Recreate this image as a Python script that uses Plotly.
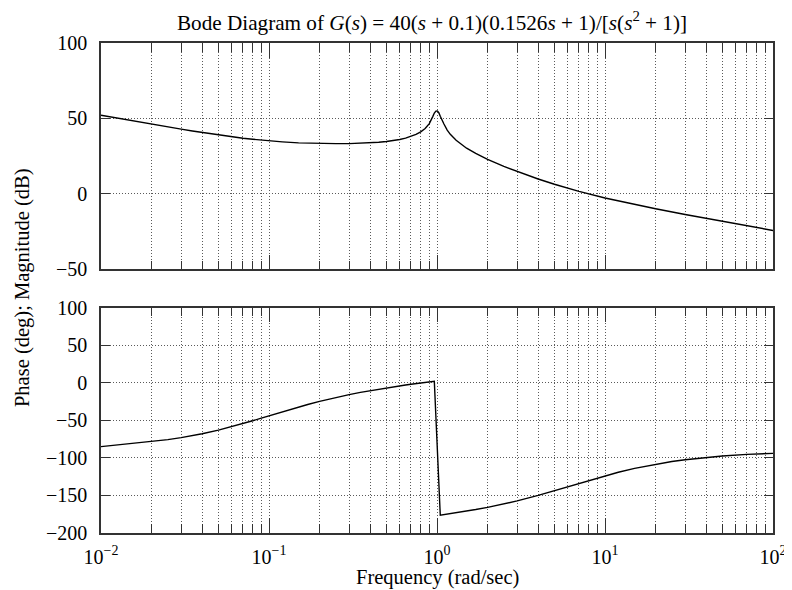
import plotly.graph_objects as go

# Frequencies (rad/sec) and values
freq_mag = [0.01, 0.012, 0.015, 0.02, 0.025, 0.03, 0.035, 0.04, 0.05, 0.06, 0.07, 0.08,
            0.1, 0.12, 0.15, 0.17, 0.2, 0.25, 0.3, 0.35, 0.4, 0.45, 0.5, 0.55, 0.6, 0.65,
            0.7, 0.75, 0.8, 0.85, 0.9, 0.92, 0.945, 0.964, 0.985, 1.005, 1.025, 1.046,
            1.07, 1.1, 1.15, 1.2, 1.3, 1.4, 1.5, 1.7, 2, 2.5, 3, 4, 5, 7, 10, 15, 20,
            30, 50, 70, 100]
mag_db = [52.1, 50.5, 48.6, 46.2, 44.4, 42.9, 41.7, 40.7, 39.1, 37.9, 36.9, 36.2,
          35.1, 34.5, 33.8, 33.6, 33.4, 33.3, 33.3, 33.5, 33.8, 34.2, 34.7, 35.3, 36.1,
          37.0, 38.0, 39.4, 41.1, 43.3, 46.6, 48.5, 51.4, 53.6, 54.9, 55.0, 53.8, 51.5,
          48.8, 46.3, 42.3, 39.5, 35.5, 32.6, 30.3, 26.8, 22.9, 18.2, 14.8, 9.9, 6.4,
          1.7, -2.7, -7.0, -9.8, -13.6, -18.2, -21.2, -24.2]

freq_ph = [0.01, 0.0125, 0.015, 0.02, 0.025, 0.03, 0.035, 0.04, 0.05, 0.06, 0.07, 0.08,
           0.09, 0.1, 0.12, 0.15, 0.17, 0.2, 0.25, 0.3, 0.35, 0.4, 0.45, 0.5, 0.55, 0.6,
           0.65, 0.7, 0.75, 0.8, 0.85, 0.9, 0.964, 1.046, 1.2, 1.3, 1.5, 1.7, 2, 2.5, 3,
           4, 5, 6, 7, 8, 10, 12, 15, 20, 25, 30, 40, 50, 70, 100]
phase_deg = [-85.0, -82.8, -81.3, -78.5, -75.7, -73.0, -70.4, -67.9, -63.0, -58.5,
             -54.4, -50.6, -47.2, -44.1, -38.8, -32.4, -29.0, -24.8, -19.6, -15.8,
             -12.9, -10.6, -8.6, -7.0, -5.5, -4.2, -3.1, -2.0, -1.1, -0.2, 0.7, 1.5,
             2.0, -176.4, -174.4, -173.2, -170.9, -168.8, -165.9, -161.4, -157.3,
             -150.0, -143.8, -138.5, -133.9, -130.0, -123.8, -119.1, -114.0, -108.4,
             -104.9, -102.5, -99.4, -97.6, -95.4, -94.0]

x_tickvals = [0.01, 0.1, 1, 10, 100]
x_ticktext = ["10<sup>\u22122</sup>", "10<sup>\u22121</sup>", "10<sup>0</sup>",
              "10<sup>1</sup>", "10<sup>2</sup>"]
mag_ticks = [-50, 0, 50, 100]
phase_ticks = [-200, -150, -100, -50, 0, 50, 100]

title_text = ("Bode Diagram of <i>G</i>(<i>s</i>) = 40(<i>s</i> + 0.1)(0.1526<i>s</i> + 1)"
              "/[<i>s</i>(<i>s</i><sup>2</sup> + 1)]")

FONT = "Liberation Serif, Times New Roman, serif"
minor_vals = [m * 10.0 ** e for e in range(-2, 2) for m in range(2, 10)]

fig = go.Figure()
fig.add_trace(go.Scatter(x=freq_mag, y=mag_db, mode="lines",
                         line=dict(color="black", width=1.4),
                         xaxis="x", yaxis="y", showlegend=False))
fig.add_trace(go.Scatter(x=freq_ph, y=phase_deg, mode="lines",
                         line=dict(color="black", width=1.4),
                         xaxis="x2", yaxis="y2", showlegend=False))

grid_col = "#5a5a5a"
line_col = "#333333"
GDASH = "1px,2px"

def xaxis_common(show_labels):
    return dict(
        type="log", range=[-2, 2], tickmode="array", tickvals=x_tickvals,
        ticktext=x_ticktext, showticklabels=show_labels, automargin=False,
        ticks="inside", ticklen=15, tickwidth=1.3, tickcolor=line_col,
        ticklabelstandoff=5,
        showline=True, linecolor=line_col, linewidth=1.5, mirror="allticks",
        showgrid=True, gridcolor=grid_col, gridwidth=1, griddash=GDASH,
        zeroline=False,
        minor=dict(tickmode="array", tickvals=minor_vals, ticks="inside",
                   ticklen=9, tickwidth=1.3, tickcolor=line_col,
                   showgrid=True, gridcolor=grid_col, gridwidth=1, griddash=GDASH),
        tickfont=dict(family=FONT, size=20, color="black"),
    )

def yaxis_common(rng, tv, dom):
    return dict(
        range=rng, domain=dom, tickmode="array", tickvals=tv, automargin=False,
        ticktext=[str(v).replace("-", "\u2212") for v in tv],
        ticks="inside", ticklen=9, tickwidth=1.3, tickcolor=line_col,
        ticklabelstandoff=8,
        showline=True, linecolor=line_col, linewidth=1.5, mirror="allticks",
        showgrid=True, gridcolor=grid_col, gridwidth=1, griddash=GDASH,
        zeroline=False,
        tickfont=dict(family=FONT, size=20, color="black"),
    )

# page body adds an 8px offset; figure is sized so it fills the 792x590 window
fig.update_layout(
    width=800, height=582,
    margin=dict(l=93, r=35, t=35, b=57, autoexpand=False),
    paper_bgcolor="white", plot_bgcolor="white",
    font=dict(family=FONT, color="black"),
    title=dict(text=title_text, x=0.53, xanchor="center", y=0.975, yanchor="middle",
               yref="container", font=dict(family=FONT, size=21.2, color="black")),
    xaxis=dict(**xaxis_common(False), anchor="y"),
    xaxis2=dict(**xaxis_common(True), anchor="y2", matches="x"),
    yaxis=yaxis_common([-50, 100], mag_ticks, [0.538, 1.0]),
    yaxis2=yaxis_common([-200, 100], phase_ticks, [0.0, 0.46]),
    annotations=[
        dict(text="Phase (deg); Magnitude (dB)", xref="paper", yref="paper",
             x=-0.1175, y=0.5, textangle=-90, showarrow=False,
             xanchor="center", yanchor="middle",
             font=dict(family=FONT, size=20.5, color="black")),
        dict(text="Frequency (rad/sec)", xref="paper", yref="paper",
             x=0.5, y=-0.091, showarrow=False, xanchor="center", yanchor="middle",
             font=dict(family=FONT, size=20.5, color="black")),
    ],
)

fig.write_html("out.html")
